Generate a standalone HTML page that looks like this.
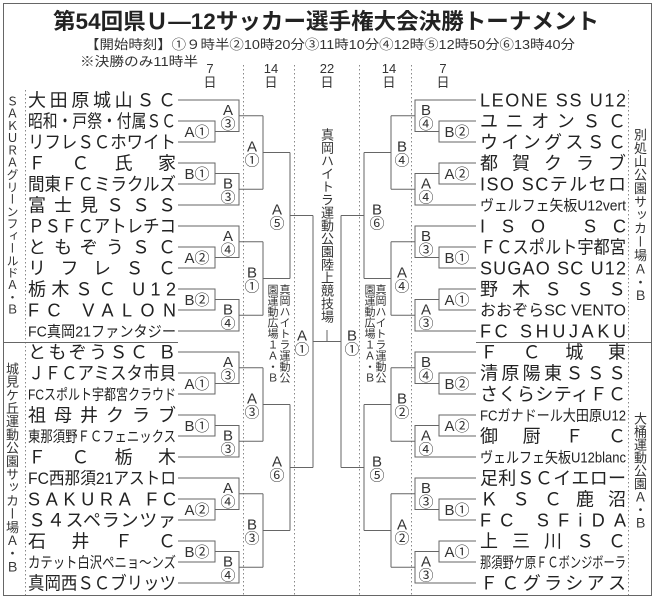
<!DOCTYPE html>
<html><head><meta charset="utf-8"><style>
html,body{margin:0;padding:0;background:#fff;}
body{width:656px;height:600px;position:relative;overflow:hidden;font-family:"Liberation Sans","Noto Sans CJK JP",sans-serif;color:#222;}
svg{position:absolute;left:0;top:0;}
.v{position:absolute;writing-mode:vertical-rl;text-orientation:upright;font-family:"Liberation Sans","Noto Sans CJK JP",sans-serif;color:#333;line-height:1;white-space:nowrap;}
</style></head><body>
<svg width="656" height="600" viewBox="0 0 656 600" xmlns="http://www.w3.org/2000/svg" font-family="Liberation Sans, Noto Sans CJK JP, sans-serif">
<rect x="3.5" y="3.5" width="648" height="592" fill="none" stroke="#666" stroke-width="1"/>
<text x="326" y="29" text-anchor="middle" font-size="22" font-weight="bold" fill="#222" textLength="546" lengthAdjust="spacingAndGlyphs">第54回県Ｕ—12サッカー選手権大会決勝トーナメント</text>
<text x="85" y="49" font-size="13" fill="#333" textLength="490" lengthAdjust="spacingAndGlyphs">【開始時刻】①９時半②10時20分③11時10分④12時⑤12時50分⑥13時40分</text>
<text x="80" y="66" font-size="13" fill="#333" textLength="118" lengthAdjust="spacingAndGlyphs">※決勝のみ11時半</text>
<g font-size="13" fill="#333" text-anchor="middle">
<text x="210" y="73">7</text><text x="210" y="87">日</text>
<text x="271" y="73">14</text><text x="271" y="87">日</text>
<text x="327" y="73">22</text><text x="327" y="87">日</text>
<text x="389" y="73">14</text><text x="389" y="87">日</text>
<text x="443" y="73">7</text><text x="443" y="87">日</text>
</g>
<g stroke="#888" stroke-width="1" stroke-dasharray="1.5 2.5" fill="none">
<path d="M25.5 90V595M243.5 65V595M294.5 65V595M359.5 65V595M411.5 65V595M628.5 90V595"/>
</g>
<g stroke="#666" stroke-width="1" fill="none">
<path d="M3 342.5H178M476 342.5H651"/>
<path d="M178 100H239V131.5H215M178 121H215V142H178M239 115.75H263M178 163H215V184H178M215 173.5H239V205H178M239 189.25H263M263 115.75V189.25M263 152.5H290"/>
<path d="M178 226H239V257.5H215M178 247H215V268H178M239 241.75H263M178 289H215V310H178M215 299.5H239V331H178M239 315.25H263M263 241.75V315.25M263 278.5H290"/>
<path d="M178 352H239V383.5H215M178 373H215V394H178M239 367.75H263M178 415H215V436H178M215 425.5H239V457H178M239 441.25H263M263 367.75V441.25M263 404.5H290"/>
<path d="M178 478H239V509.5H215M178 499H215V520H178M239 493.75H263M178 541H215V562H178M215 551.5H239V583H178M239 567.25H263M263 493.75V567.25M263 530.5H290"/>
<path d="M476 100H415V131.5H439M476 121H439V142H476M415 115.75H391M476 163H439V184H476M439 173.5H415V205H476M415 189.25H391M391 115.75V189.25M391 152.5H364"/>
<path d="M476 226H415V257.5H439M476 247H439V268H476M415 241.75H391M476 289H439V310H476M439 299.5H415V331H476M415 315.25H391M391 241.75V315.25M391 278.5H364"/>
<path d="M476 352H415V383.5H439M476 373H439V394H476M415 367.75H391M476 415H439V436H476M439 425.5H415V457H476M415 441.25H391M391 367.75V441.25M391 404.5H364"/>
<path d="M476 478H415V509.5H439M476 499H439V520H476M415 493.75H391M476 541H439V562H476M439 551.5H415V583H476M415 567.25H391M391 493.75V567.25M391 530.5H364"/>
<path d="M290 152.5V278.5M290 215.5H313M290 404.5V530.5M290 467.5H313M313 215.5V467.5M313 341.5H341M327 330V341.5"/>
<path d="M364 152.5V278.5M364 215.5H341M364 404.5V530.5M364 467.5H341M341 215.5V467.5"/>
</g>
<g font-size="18" fill="#222">
<text x="28" y="106.5" textLength="148" lengthAdjust="spacing">大田原城山ＳＣ</text>
<text x="28" y="127.5" textLength="148" lengthAdjust="spacingAndGlyphs">昭和・戸祭・付属ＳＣ</text>
<text x="28" y="148.5" textLength="148" lengthAdjust="spacingAndGlyphs">リフレＳＣホワイト</text>
<text x="28" y="169.5" textLength="148" lengthAdjust="spacing">ＦＣ氏家</text>
<text x="28" y="190.5" textLength="148" lengthAdjust="spacingAndGlyphs">間東ＦＣミラクルズ</text>
<text x="28" y="211.5" textLength="148" lengthAdjust="spacing">富士見ＳＳＳ</text>
<text x="28" y="232.5" textLength="148" lengthAdjust="spacingAndGlyphs">ＰＳＦＣアトレチコ</text>
<text x="28" y="253.5" textLength="148" lengthAdjust="spacing">ともぞうＳＣ</text>
<text x="28" y="274.5" textLength="148" lengthAdjust="spacing">リフレＳＣ</text>
<text x="28" y="295.5" textLength="148" lengthAdjust="spacing">栃木ＳＣ U12</text>
<text x="28" y="316.5" textLength="148" lengthAdjust="spacing">FC VALON</text>
<text x="28" y="336.5" font-size="15" textLength="148" lengthAdjust="spacingAndGlyphs">FC真岡21ファンタジー</text>
<text x="28" y="358.5" textLength="148" lengthAdjust="spacing">ともぞうＳＣ Ｂ</text>
<text x="28" y="379.5" textLength="148" lengthAdjust="spacingAndGlyphs">ＪＦＣアミスタ市貝</text>
<text x="28" y="399.5" font-size="15" textLength="148" lengthAdjust="spacingAndGlyphs">FCスポルト宇都宮クラウド</text>
<text x="28" y="421.5" textLength="148" lengthAdjust="spacing">祖母井クラブ</text>
<text x="28" y="441.5" font-size="15" textLength="148" lengthAdjust="spacingAndGlyphs">東那須野ＦＣフェニックス</text>
<text x="28" y="463.5" textLength="148" lengthAdjust="spacing">ＦＣ栃木</text>
<text x="28" y="484" font-size="17" textLength="148" lengthAdjust="spacingAndGlyphs">FC西那須21アストロ</text>
<text x="28" y="505.5" textLength="148" lengthAdjust="spacing">SAKURA FC</text>
<text x="28" y="526.5" textLength="148" lengthAdjust="spacing">Ｓ４スペランツァ</text>
<text x="28" y="547.5" textLength="148" lengthAdjust="spacing">石井ＦＣ</text>
<text x="28" y="567.5" font-size="15" textLength="148" lengthAdjust="spacingAndGlyphs">カテット白沢ペニョ～ンズ</text>
<text x="28" y="589.5" textLength="148" lengthAdjust="spacingAndGlyphs">真岡西ＳＣブリッツ</text>

<text x="480" y="106.5" textLength="146" lengthAdjust="spacing">LEONE SS U12</text>
<text x="480" y="127.5" textLength="146" lengthAdjust="spacing">ユニオンＳＣ</text>
<text x="480" y="148.5" textLength="146" lengthAdjust="spacing">ウイングスＳＣ</text>
<text x="480" y="169.5" textLength="146" lengthAdjust="spacing">都賀クラブ</text>
<text x="480" y="190.5" textLength="146" lengthAdjust="spacing">ISO SCテルセロ</text>
<text x="480" y="210.5" font-size="15" textLength="146" lengthAdjust="spacingAndGlyphs">ヴェルフェ矢板U12vert</text>
<text x="480" y="232.5" textLength="146" lengthAdjust="spacing">ISO SC</text>
<text x="480" y="253.5" textLength="146" lengthAdjust="spacingAndGlyphs">ＦＣスポルト宇都宮</text>
<text x="480" y="274.5" textLength="146" lengthAdjust="spacing">SUGAO SC U12</text>
<text x="480" y="295.5" textLength="146" lengthAdjust="spacing">野木ＳＳＳ</text>
<text x="480" y="315.5" font-size="16" textLength="146" lengthAdjust="spacing">おおぞらSC VENTO</text>
<text x="480" y="337.5" textLength="146" lengthAdjust="spacing">FC SHUJAKU</text>
<text x="480" y="358.5" textLength="146" lengthAdjust="spacing">ＦＣ城東</text>
<text x="480" y="379.5" textLength="146" lengthAdjust="spacing">清原陽東ＳＳＳ</text>
<text x="480" y="400.5" textLength="146" lengthAdjust="spacing">さくらシティＦＣ</text>
<text x="480" y="420.5" font-size="15" textLength="146" lengthAdjust="spacingAndGlyphs">FCガナドール大田原U12</text>
<text x="480" y="442.5" textLength="146" lengthAdjust="spacing">御厨ＦＣ</text>
<text x="480" y="462.5" font-size="15" textLength="146" lengthAdjust="spacingAndGlyphs">ヴェルフェ矢板U12blanc</text>
<text x="480" y="484.5" textLength="146" lengthAdjust="spacing">足利ＳＣイエロー</text>
<text x="480" y="505.5" textLength="146" lengthAdjust="spacing">ＫＳＣ鹿沼</text>
<text x="480" y="526.5" textLength="146" lengthAdjust="spacing">FC SFiDA</text>
<text x="480" y="547.5" textLength="146" lengthAdjust="spacing">上三川ＳＣ</text>
<text x="480" y="567.5" font-size="15" textLength="146" lengthAdjust="spacingAndGlyphs">那須野ケ原ＦＣボンジボーラ</text>
<text x="480" y="589.5" textLength="146" lengthAdjust="spacing">ＦＣグラシアス</text>
</g>
<g font-size="15" fill="#333" text-anchor="middle">
<text x="197" y="137">A①</text><text x="197" y="179">B①</text>
<text x="197" y="263">A②</text><text x="197" y="305">B②</text>
<text x="197" y="389">A①</text><text x="197" y="431">B①</text>
<text x="197" y="515">A②</text><text x="197" y="557">B②</text>
<text x="457" y="137">B②</text><text x="457" y="179">A②</text>
<text x="457" y="263">B①</text><text x="457" y="305">A①</text>
<text x="457" y="389">B②</text><text x="457" y="431">A②</text>
<text x="457" y="515">B①</text><text x="457" y="557">A①</text>
</g>
<g font-size="15" fill="#333" text-anchor="middle">
<text x="228" y="114.75">A</text><text x="228" y="128.75">③</text>
<text x="228" y="188.25">B</text><text x="228" y="202.25">③</text>
<text x="228" y="240.75">A</text><text x="228" y="254.75">④</text>
<text x="228" y="314.25">B</text><text x="228" y="328.25">④</text>
<text x="228" y="366.75">A</text><text x="228" y="380.75">③</text>
<text x="228" y="440.25">B</text><text x="228" y="454.25">③</text>
<text x="228" y="492.75">A</text><text x="228" y="506.75">④</text>
<text x="228" y="566.25">B</text><text x="228" y="580.25">④</text>
<text x="252" y="151.5">A</text><text x="252" y="165.5">①</text>
<text x="252" y="277.5">B</text><text x="252" y="291.5">①</text>
<text x="252" y="403.5">A</text><text x="252" y="417.5">③</text>
<text x="252" y="529.5">B</text><text x="252" y="543.5">③</text>
<text x="277" y="214.5">A</text><text x="277" y="228.5">⑤</text>
<text x="277" y="466.5">A</text><text x="277" y="480.5">⑥</text>
<text x="302" y="340.5">A</text><text x="302" y="354.5">①</text>

<text x="426" y="114.75">B</text><text x="426" y="128.75">④</text>
<text x="426" y="188.25">A</text><text x="426" y="202.25">④</text>
<text x="426" y="240.75">B</text><text x="426" y="254.75">③</text>
<text x="426" y="314.25">A</text><text x="426" y="328.25">③</text>
<text x="426" y="366.75">B</text><text x="426" y="380.75">④</text>
<text x="426" y="440.25">A</text><text x="426" y="454.25">④</text>
<text x="426" y="492.75">B</text><text x="426" y="506.75">③</text>
<text x="426" y="566.25">A</text><text x="426" y="580.25">③</text>
<text x="402" y="151.5">B</text><text x="402" y="165.5">④</text>
<text x="402" y="277.5">A</text><text x="402" y="291.5">④</text>
<text x="402" y="403.5">B</text><text x="402" y="417.5">②</text>
<text x="402" y="529.5">A</text><text x="402" y="543.5">②</text>
<text x="377" y="214.5">B</text><text x="377" y="228.5">⑥</text>
<text x="377" y="466.5">B</text><text x="377" y="480.5">⑤</text>
<text x="352" y="340.5">B</text><text x="352" y="354.5">①</text>
</g>
</svg>
<div class="v" style="left:6px;top:95px;font-size:12px;letter-spacing:0.25px;">ＳＡＫＵＲＡグリーンフィールドＡ・Ｂ</div>
<div class="v" style="left:5px;top:362px;font-size:13px;letter-spacing:0.2px;">城見ケ丘運動公園サッカー場Ａ・Ｂ</div>
<div class="v" style="left:633px;top:128px;font-size:13px;letter-spacing:0.4px;">別処山公園サッカー場Ａ・Ｂ</div>
<div class="v" style="left:633px;top:412px;font-size:13px;letter-spacing:0px;">大桶運動公園Ａ・Ｂ</div>
<div class="v" style="left:320px;top:128px;font-size:13px;letter-spacing:0px;">真岡ハイトラ運動公園陸上競技場</div>
<div class="v" style="left:278px;top:284px;font-size:11px;">真岡ハイトラ運動公</div>
<div class="v" style="left:266px;top:284px;font-size:11px;">園運動広場１Ａ・Ｂ</div>
<div class="v" style="left:374px;top:284px;font-size:11px;">真岡ハイトラ運動公</div>
<div class="v" style="left:363px;top:284px;font-size:11px;">園運動広場１Ａ・Ｂ</div>
</body></html>
